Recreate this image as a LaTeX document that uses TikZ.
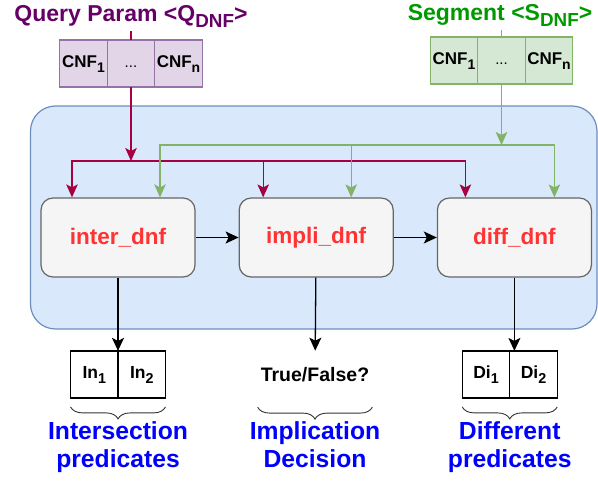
\documentclass[tikz,border=0pt]{standalone}
\usepackage{fontspec}
\setmainfont{Liberation Sans}
\usetikzlibrary{arrows.meta,positioning,calc,decorations.pathreplacing}

\definecolor{qpurple}{HTML}{660066}
\definecolor{qfill}{HTML}{E1D5E7}
\definecolor{qdraw}{HTML}{9673A6}
\definecolor{sgreen}{HTML}{009900}
\definecolor{sfill}{HTML}{D5E8D4}
\definecolor{sdraw}{HTML}{82B366}
\definecolor{crimson}{HTML}{A50040}
\definecolor{panelfill}{HTML}{DAE8FC}
\definecolor{paneldraw}{HTML}{6C8EBF}
\definecolor{opfill}{HTML}{F5F5F5}
\definecolor{opdraw}{HTML}{666666}
\definecolor{optext}{HTML}{FF3333}
\definecolor{labblue}{HTML}{0000FF}

% low, large subscript
\newcommand{\dsub}[1]{\raisebox{-0.3em}{\scalebox{0.82}{#1}}}

\begin{document}
\begin{tikzpicture}[x=1pt,y=-1pt,
    title/.style={anchor=base,font=\fontsize{23}{27}\selectfont\bfseries},
    qcell/.style={draw=qdraw,fill=qfill,line width=1.2pt,minimum width=47.5pt,minimum height=47pt,
        inner sep=0pt,outer sep=0pt,text height=12pt,text depth=4pt,font=\fontsize{17}{20}\selectfont\bfseries},
    scell/.style={qcell,draw=sdraw,fill=sfill},
    dots/.style={font=\fontsize{15}{18}\selectfont\mdseries},
    op/.style={draw=opdraw,fill=opfill,line width=1.2pt,rounded corners=12pt,minimum width=154pt,
        minimum height=79pt,text=optext,font=\fontsize{22.5}{26}\selectfont\bfseries},
    ocell/.style={draw,line width=1.2pt,minimum width=47.5pt,minimum height=47pt,inner sep=0pt,
        outer sep=0pt,text height=12pt,text depth=4pt,font=\fontsize{17.5}{20}\selectfont\bfseries},
    lab/.style={align=center,inner sep=0pt,text=labblue,font=\fontsize{24.7}{28}\selectfont\bfseries},
    redarr/.style={crimson,line width=1.3pt,-{Stealth[length=13pt,width=11.5pt,inset=3pt]}},
    greenarr/.style={sdraw,line width=1.3pt,-{Stealth[length=13pt,width=11.5pt,inset=3pt]}},
    blackarr/.style={black,line width=1.3pt,-{Stealth[length=13pt,width=12pt,inset=3pt]}},
    brc/.style={draw=black!80,line width=0.9pt,decorate,decoration={brace,mirror,amplitude=12pt}}
]
\useasboundingbox (0,0) rectangle (598,482);

% Panel behind the operators
\draw[draw=paneldraw,fill=panelfill,line width=1.2pt,rounded corners=25pt] (30.5,106) rectangle (597,329);

% Query param and its CNFs
\node[title,text=qpurple] (qtitle) at (131,21) {Query Param <Q\dsub{DNF}>};
\node[qcell] (q1) at (83.5,63.5) {CNF\dsub{1}};
\node[qcell,dots,right=0pt of q1] (q2) {...};
\node[qcell,right=0pt of q2] (q3) {CNF\dsub{n}};

% Segment and its CNFs
\node[title,text=sgreen] (stitle) at (500,20) {Segment <S\dsub{DNF}>};
\node[scell] (s1) at (454,60.5) {CNF\dsub{1}};
\node[scell,dots,right=0pt of s1] (s2) {...};
\node[scell,right=0pt of s2] (s3) {CNF\dsub{n}};

% Operators
\node[op] (inter) at (118,237.5) {inter\_dnf};
\node[op,right=43pt of inter] (impli) {impli\_dnf};
\node[op,right=43pt of impli] (diff) {diff\_dnf};

% Junctions
\coordinate[below=74pt of q2.south] (rj);
\coordinate[below=61pt of s2.south] (gj);

% Query inputs
\draw[crimson,line width=1.3pt] (qtitle.south -| q2.north) -- (q2.north);
\draw[redarr] (q2.south) -- (rj);
\draw[redarr] (rj) -| ([xshift=-46pt]inter.north);
\draw[redarr] (rj) -| ([xshift=-53pt]impli.north);
\draw[redarr] (rj) -| ([xshift=-49pt]diff.north);

% Segment inputs
\draw[sdraw,line width=1.3pt] (stitle.south -| s2.north) -- (s2.north);
\draw[greenarr] (s2.south) -- (gj);
\draw[greenarr] (gj) -| ([xshift=42pt]inter.north);
\draw[greenarr] (gj) -| ([xshift=35pt]impli.north);
\draw[greenarr] (gj) -| ([xshift=40pt]diff.north);

% Chain
\draw[blackarr] (inter) -- (impli);
\draw[blackarr] (impli) -- (diff);

% Outputs
\node[ocell] (in1) at (94.3,374.4) {In\dsub{1}};
\node[ocell,right=0pt of in1] (in2) {In\dsub{2}};
\node[minimum height=47pt,inner sep=0pt,font=\fontsize{19.5}{22}\selectfont\bfseries] (tf) at (315,374.4) {True/False?};
\node[ocell] (di1) at (486,374.4) {Di\dsub{1}};
\node[ocell,right=0pt of di1] (di2) {Di\dsub{2}};

\draw[blackarr] (inter.south) -- (inter.south |- in1.north);
\draw[blackarr] (impli) -- (tf);
\draw[blackarr] (diff.south) -- (diff.south |- di1.north);

% Braces and meanings
\draw[brc] ([yshift=-9pt]in1.south west) -- ([yshift=-9pt]in2.south east);
\draw[brc] ([xshift=-3pt,yshift=-9pt]tf.south west) -- ([xshift=3pt,yshift=-9pt]tf.south east);
\draw[brc] ([yshift=-9pt]di1.south west) -- ([yshift=-9pt]di2.south east);

\node[lab,below=23pt of in1.south east] (inlab) {Intersection\\predicates};
\node[lab,below=23pt of tf.south] (tflab) {Implication\\Decision};
\node[lab,below=23pt of di1.south east] (dilab) {Different\\predicates};
\end{tikzpicture}
\end{document}
